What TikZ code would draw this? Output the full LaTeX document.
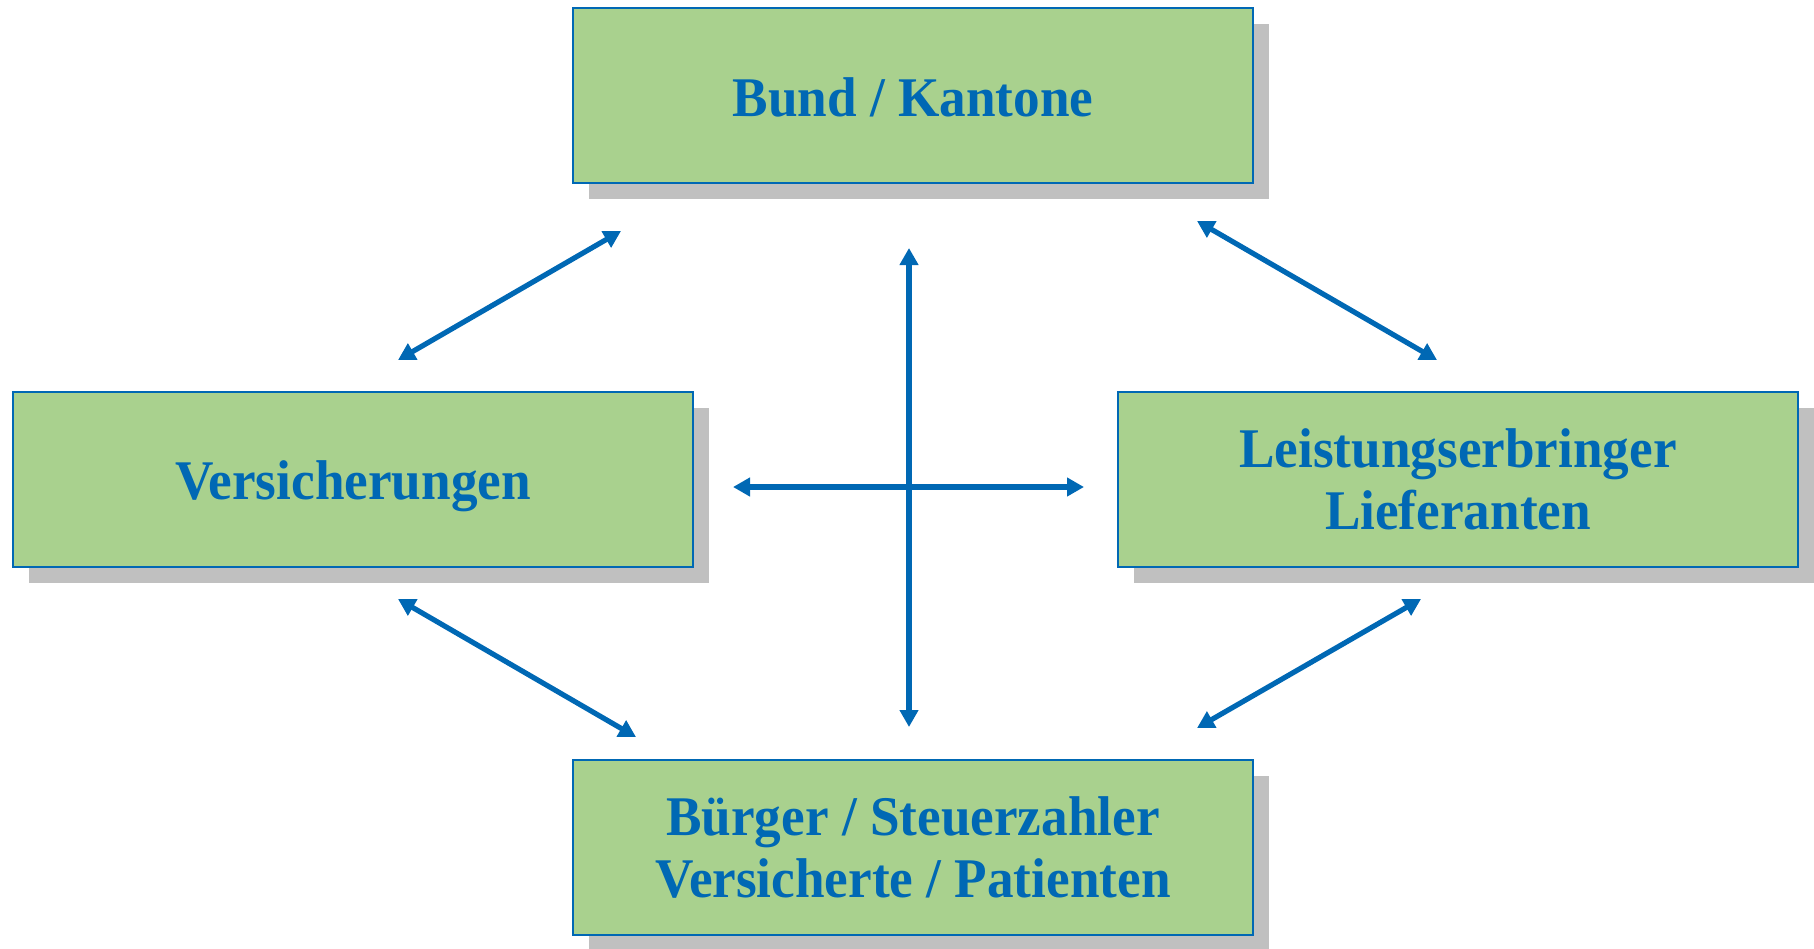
\documentclass[tikz,border=0pt]{standalone}
\usepackage{fontspec}
\setmainfont{Liberation Serif}
\newfontfamily\boxfont[FakeStretch=0.95]{Liberation Serif}
\usepackage{tikz}
\usetikzlibrary{arrows.meta, shadows}
\usepackage{xcolor}

\definecolor{boxgreen}{RGB}{169,209,142}
\definecolor{linkblue}{RGB}{0,104,180}
\definecolor{shadowgray}{RGB}{192,192,192}

\begin{document}
\begin{tikzpicture}[
    x=0.5pt, y=-0.5pt,
    box/.style={rectangle, draw=linkblue, line width=1pt, fill=boxgreen, minimum width=340pt, minimum height=87.5pt, align=center, text=linkblue, font=\boxfont\bfseries\fontsize{28}{31}\selectfont, drop shadow={shadow xshift=8pt, shadow yshift=-8pt, fill=shadowgray, opacity=1}},
    oneline/.style={text height=21pt, text depth=0.5pt},
    arrow/.style={{Triangle[length=8.5pt,width=9pt]}-{Triangle[length=8.5pt,width=9pt]}, line width=2.6pt, draw=linkblue}
]
\useasboundingbox (0,0) rectangle (1814,948);

\node[box, oneline] (bund) at (913,95.5) {Bund / Kantone};
\node[box, oneline] (vers) at (353,479) {Versicherungen};
\node[box] (leist) at (1458,479) {Leistungserbringer\\Lieferanten};
\node[box] (buerger) at (913,847) {Bürger / Steuerzahler\\Versicherte / Patienten};

% arrow end points
\coordinate (tl1) at (398,360);
\coordinate (tl2) at (621,231);
\coordinate (tr1) at (1197,221);
\coordinate (tr2) at (1437,360);
\coordinate (bl1) at (398,599);
\coordinate (bl2) at (636,737);
\coordinate (br1) at (1197,728);
\coordinate (br2) at (1421,599);
\coordinate (vt) at (909,248);
\coordinate (vb) at (909,727);
\coordinate (hl) at (733,487);
\coordinate (hr) at (1084,487);

\draw[arrow] (tl1) -- (tl2);
\draw[arrow] (tr1) -- (tr2);
\draw[arrow] (bl1) -- (bl2);
\draw[arrow] (br1) -- (br2);
\draw[arrow] (vt) -- (vb);
\draw[arrow] (hl) -- (hr);

\end{tikzpicture}
\end{document}
